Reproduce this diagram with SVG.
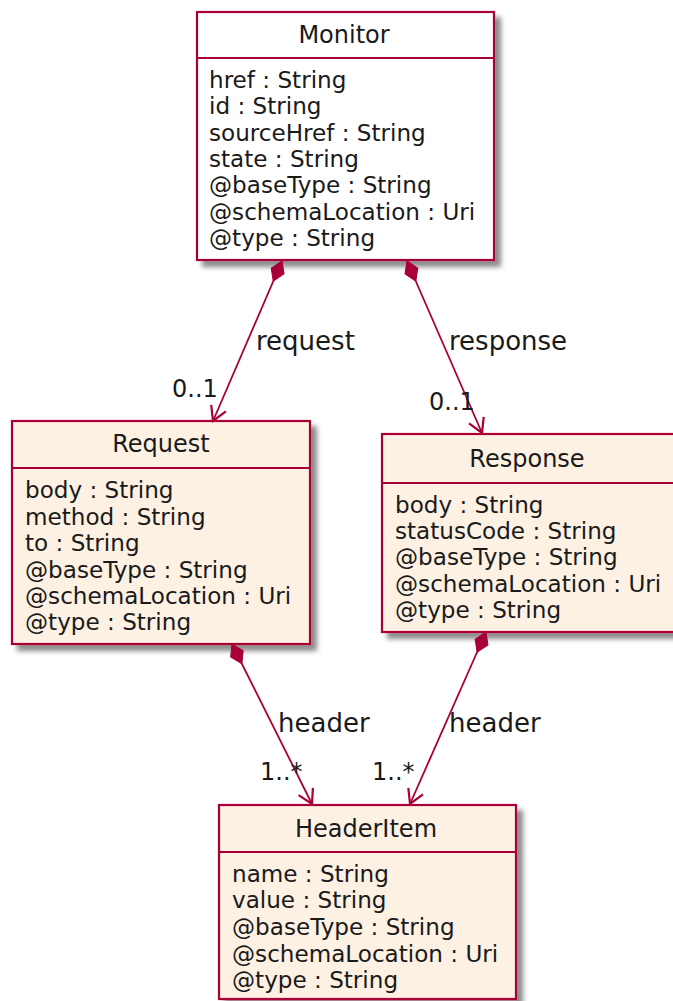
<svg xmlns="http://www.w3.org/2000/svg" width="673" height="1001" viewBox="0 0 673 1001">
<defs>
<filter id="sh" x="-10%" y="-10%" width="130%" height="130%">
<feGaussianBlur in="SourceAlpha" stdDeviation="2.5"/>
<feOffset dx="6" dy="6" result="b"/>
<feComponentTransfer><feFuncA type="linear" slope="0.45"/></feComponentTransfer>
<feMerge><feMergeNode/><feMergeNode in="SourceGraphic"/></feMerge>
</filter>
<marker id="dia" markerUnits="userSpaceOnUse" markerWidth="30" markerHeight="20" refX="0" refY="10" viewBox="0 0 30 20" orient="auto" overflow="visible">
<path d="M0,10 L11,3 L22,10 L11,17 Z" fill="#A80036" stroke="#A80036" stroke-width="1"/>
</marker>
<marker id="arr" markerUnits="userSpaceOnUse" markerWidth="30" markerHeight="20" refX="30" refY="10" viewBox="0 0 30 20" orient="auto" overflow="visible">
<path d="M16,2 L30,10 L16,18" fill="none" stroke="#A80036" stroke-width="2.2"/>
</marker>
</defs>
<style>
.box{fill:#FCF1E3;stroke:#A80036;stroke-width:2.2}
.wbox{fill:#FFFFFF;stroke:#A80036;stroke-width:2.2}
.sep{stroke:#A80036;stroke-width:2.2}
.t{font-family:"DejaVu Sans",sans-serif;font-size:24px;fill:#1a1a1a;text-anchor:middle}
.a{font-family:"DejaVu Sans",sans-serif;font-size:23.1px;fill:#1a1a1a}
.lbl{font-family:"DejaVu Sans",sans-serif;font-size:26px;fill:#1a1a1a}
.m{font-family:"DejaVu Sans",sans-serif;font-size:24px;fill:#1a1a1a}
.c{fill:none;stroke:#A80036;stroke-width:1.8;marker-start:url(#dia);marker-end:url(#arr)}
</style>
<g id="Monitor">
<rect class="wbox" x="197" y="12" width="297" height="248" filter="url(#sh)"/>
<line class="sep" x1="197" y1="58" x2="494" y2="58"/>
<text class="t" x="344" y="43">Monitor</text>
<text class="a" x="209" y="88">href : String</text>
<text class="a" x="209" y="114">id : String</text>
<text class="a" x="209" y="141">sourceHref : String</text>
<text class="a" x="209" y="167">state : String</text>
<text class="a" x="209" y="193">@baseType : String</text>
<text class="a" x="209" y="220">@schemaLocation : Uri</text>
<text class="a" x="209" y="246">@type : String</text>
</g>
<g id="Request">
<rect class="box" x="12" y="421" width="298" height="223" filter="url(#sh)"/>
<line class="sep" x1="12" y1="468" x2="310" y2="468"/>
<text class="t" x="161" y="452">Request</text>
<text class="a" x="25" y="498">body : String</text>
<text class="a" x="25" y="525">method : String</text>
<text class="a" x="25" y="551">to : String</text>
<text class="a" x="25" y="578">@baseType : String</text>
<text class="a" x="25" y="604">@schemaLocation : Uri</text>
<text class="a" x="25" y="630">@type : String</text>
</g>
<g id="Response">
<rect class="box" x="382" y="434" width="293" height="198" filter="url(#sh)"/>
<line class="sep" x1="382" y1="483" x2="675" y2="483"/>
<text class="t" x="527" y="467">Response</text>
<text class="a" x="395" y="513">body : String</text>
<text class="a" x="395" y="539">statusCode : String</text>
<text class="a" x="395" y="565">@baseType : String</text>
<text class="a" x="395" y="592">@schemaLocation : Uri</text>
<text class="a" x="395" y="618">@type : String</text>
</g>
<g id="HeaderItem">
<rect class="box" x="219" y="805" width="297" height="194" filter="url(#sh)"/>
<line class="sep" x1="219" y1="852" x2="516" y2="852"/>
<text class="t" x="366" y="837">HeaderItem</text>
<text class="a" x="232" y="882">name : String</text>
<text class="a" x="232" y="908">value : String</text>
<text class="a" x="232" y="935">@baseType : String</text>
<text class="a" x="232" y="962">@schemaLocation : Uri</text>
<text class="a" x="232" y="988">@type : String</text>
</g>
<g id="connectors">
<path class="c" d="M282,261 L213,421"/>
<path class="c" d="M407,261 L482,433"/>
<path class="c" d="M232,644 L312,804"/>
<path class="c" d="M486,632 L410,804"/>
<text class="lbl" x="256" y="350">request</text>
<text class="m" x="172" y="397">0..1</text>
<text class="lbl" x="449" y="350">response</text>
<text class="m" x="429" y="410">0..1</text>
<text class="lbl" x="278" y="732">header</text>
<text class="m" x="260" y="780">1..*</text>
<text class="lbl" x="449" y="732">header</text>
<text class="m" x="372" y="780">1..*</text>
</g>
</svg>
